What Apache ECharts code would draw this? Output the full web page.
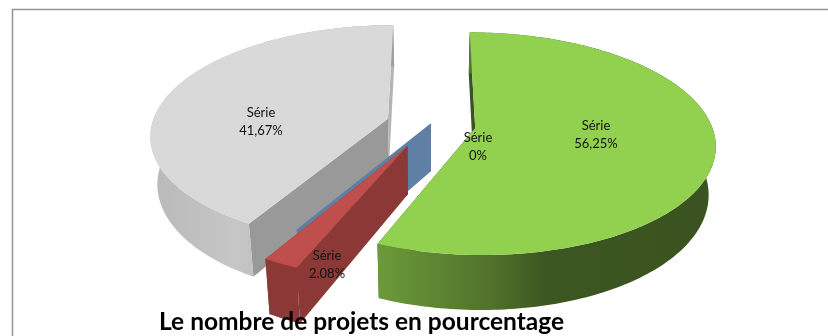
<!DOCTYPE html>
<html><head><meta charset="utf-8">
<style>html,body{margin:0;padding:0;background:#fff}#c{width:828px;height:336px}</style>
<script src="https://cdn.jsdelivr.net/npm/echarts@6/dist/echarts.min.js"></script>
</head><body><div id="c"></div>
<script>
// Data
const categories = ['Série', 'Série', 'Série', 'Série'];
const values = [56.25, 2.08, 0, 41.67];
const valueLabels = ['56,25%', '2.08%', '0%', '41,67%'];
const chartTitle = 'Le nombre de projets en pourcentage';

// Styling and 3D projection settings
const explode = [0.19, 0.22, 0, 0.19];
const labelAt = [[596,135],[327,265],[478,147],[261,122]];
const drawOrder = [3, 2, 1, 0];
const skin = [
  {top:'#92D050', wall:[[0,'#6C9B3A'],[0.35,'#4F7029'],[0.5,'#3C5621'],[1,'#3A5320']], startWall:'#3A5320', endWall:'#3A5320'},
  {top:'#BE4F4C', wall:[[0,'#8C3836'],[1,'#8C3836']], startWall:'#8C3836', endWall:'#8C3836'},
  {top:'#5F7FA5', wall:[[0,'#5F7FA5'],[1,'#5F7FA5']], startWall:'#5F7FA5', endWall:'#5F7FA5'},
  {top:'#D9D9D9', wall:[[0,'#B9B9B9'],[0.35,'#C6C6C6'],[0.8,'#ABABAB'],[1,'#9F9F9F']], startWall:'#999999', endWall:'#B4B4B4'}
];
const cx = 431, cy = 124, fx = 236, fy = 108, k = 0.14, vx = 430, depth = 47, shrink = 0.975;
const total = values.reduce((a, b) => a + b, 0);

function project(X, Y) {
  const w = 1 + k * Y;
  return [cx + X * fx / w, cy - Y * fy / w, w];
}
function lower(p) {
  return [vx + (p[0] - vx) * shrink, p[1] + depth / p[2]];
}
function sliceGeometry(i) {
  let before = 0;
  for (let j = 0; j < i; j++) before += values[j];
  const a0 = before / total * 2 * Math.PI;
  const a1 = (before + values[i]) / total * 2 * Math.PI;
  const mid = (a0 + a1) / 2;
  const ox = explode[i] * Math.sin(mid), oy = explode[i] * Math.cos(mid);
  const at = (a, r) => project(ox + r * Math.sin(a), oy + r * Math.cos(a));
  const arc = [];
  const n = Math.max(2, Math.ceil((a1 - a0) / 0.02));
  for (let s = 0; s <= n; s++) arc.push(at(a0 + (a1 - a0) * s / n, 1));
  return {apex: at(0, 0), arc};
}
const xy = p => [p[0], p[1]];
function renderItem(params, api) {
  const i = api.value(0);
  const g = sliceGeometry(i), sk = skin[i], base = drawOrder[i] * 10;
  const poly = (pts, fill, z, extra) => ({
    type: 'polygon', z2: base + z, shape: {points: pts.map(xy)},
    style: Object.assign({fill}, extra || {})
  });
  const wallOf = (a, b) => [a, b, lower(b), lower(a)];
  const first = g.arc[0], last = g.arc[g.arc.length - 1];
  const rimWall = g.arc.concat(g.arc.slice().reverse().map(lower));
  const children = [
    poly(wallOf(g.apex, first), sk.startWall, 0),
    poly(wallOf(g.apex, last), sk.endWall, 1),
    poly(rimWall, new echarts.graphic.LinearGradient(0, 0, 1, 0,
      sk.wall.map(s => ({offset: s[0], color: s[1]}))), 2),
    poly([g.apex].concat(g.arc), sk.top, 3,
      values[i] === 0 ? {stroke: sk.top, lineWidth: 1.5} : {})
  ];
  children.push({
    type: 'text', z2: 200, x: labelAt[i][0], y: labelAt[i][1],
    style: {text: categories[i] + '\n' + valueLabels[i], fill: '#111', align: 'center',
      verticalAlign: 'middle', font: '13px Lato', lineHeight: 18}
  });
  return {type: 'group', children};
}
const chart = echarts.init(document.getElementById('c'), null, {renderer: 'canvas'});
chart.setOption({
  animation: false,
  backgroundColor: '#fff',
  title: {text: chartTitle, left: 154, top: 305,
    textStyle: {fontFamily: 'Lato', fontWeight: 'bold', fontSize: 24.5, color: '#000'}, z: 50},
  graphic: [{type: 'polyline', shape: {points: [[12.5, 336], [12.5, 9.5], [828, 9.5]]},
    style: {stroke: '#949494', fill: 'none', lineWidth: 1.5}, silent: true}],
  series: [{type: 'custom', coordinateSystem: 'none', renderItem, clip: false, silent: true,
    data: values.map((v, i) => [i, v])}]
});
</script></body></html>
